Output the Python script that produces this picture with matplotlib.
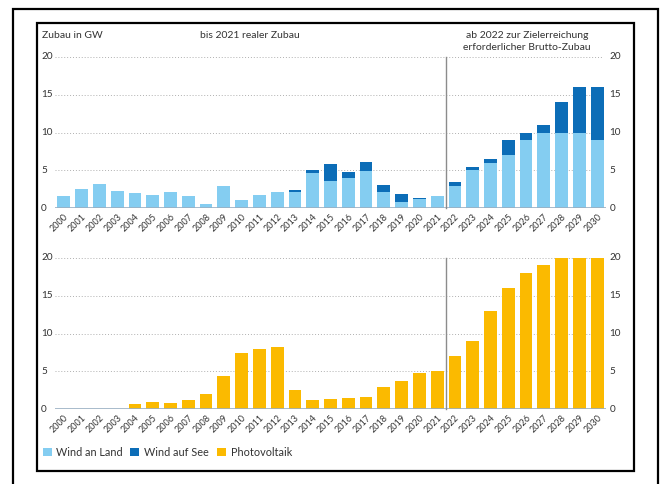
import matplotlib
matplotlib.use("Agg")
import matplotlib.pyplot as plt
from matplotlib.patches import Rectangle
import numpy as np

plt.rcParams['font.family'] = ['Lato', 'DejaVu Sans']

years = [str(y) for y in range(2000, 2031)]
wind_land = [1.6, 2.6, 3.2, 2.3, 2.0, 1.8, 2.2, 1.6, 0.6, 2.9, 1.1, 1.7, 2.2, 2.1, 4.6, 3.6,
             4.0, 4.9, 2.1, 0.8, 1.2, 1.6, 3.0, 5.0, 6.0, 7.0, 9.0, 10.0, 10.0, 10.0, 9.0]
wind_see = [0, 0, 0, 0, 0, 0, 0, 0, 0, 0, 0, 0.1, 0, 0.3, 0.5, 2.3,
            0.8, 1.2, 1.0, 1.1, 0.2, 0, 0.5, 0.5, 0.5, 2.0, 1.0, 1.0, 4.0, 6.0, 7.0]
pv = [0, 0, 0, 0.1, 0.7, 0.9, 0.85, 1.2, 2.0, 4.4, 7.4, 7.9, 8.2, 2.6, 1.2, 1.3,
      1.45, 1.6, 2.9, 3.7, 4.8, 5.0, 7.0, 9.0, 13.0, 16.0, 18.0, 19.0, 20.0, 20.0, 20.0]
yticks = [0, 5, 10, 15, 20]

C_LAND = '#84cdf1'
C_SEE = '#0c6db7'
C_PV = '#fbba00'
C_BASE = '#9aafc2'
C_TXT = '#333333'

W, H = 664, 484
fig = plt.figure(figsize=(W / 100, H / 100), dpi=100)

def fx(px):
    return px / W

def fy(py):
    return 1 - py / H

# frames
fig.add_artist(Rectangle((fx(13), fy(490)), fx(658) - fx(13), fy(9) - fy(490),
                         transform=fig.transFigure, fill=False, lw=1.6, ec='black'))
fig.add_artist(Rectangle((fx(37), fy(471)), fx(634) - fx(37), fy(22.5) - fy(471),
                         transform=fig.transFigure, fill=False, lw=1.6, ec='black'))

x = np.arange(len(years))
ax_left = fx(55)
ax_w = fx(606) - fx(55)

def setup(ax):
    ax.set_xlim(-0.5, 30.5)
    ax.set_ylim(0, 20)
    for s in ax.spines.values():
        s.set_visible(False)
    for yv in yticks[1:]:
        ax.plot([-0.5, 30.3], [yv, yv], ls=(0, (1, 2)), lw=0.7, color='#b0b0b0', zorder=0, clip_on=False)
    ax.axhline(0, color=C_BASE, lw=1.2, zorder=3)
    ax.plot([21.5, 21.5], [0, 20], color='#8c8c8c', lw=1.0, zorder=4, clip_on=False)
    ax.set_yticks(yticks)
    ax.set_yticklabels([])
    ax.tick_params(axis='y', length=0)
    ax.set_xticks(x)
    ax.set_xticklabels(years, rotation=45, ha='right', rotation_mode='anchor', fontsize=6.5, color=C_TXT)
    ax.tick_params(axis='x', length=0, pad=3)
    for yv in yticks:
        ax.text(-0.5 - 0.78, yv, str(yv), ha='left', va='center', fontsize=7.2, color=C_TXT,
                transform=ax.transData, clip_on=False)
        ax.text(30.7, yv, str(yv), ha='left', va='center', fontsize=7.2, color=C_TXT,
                transform=ax.transData, clip_on=False)

# top axes
ax1 = fig.add_axes([ax_left, fy(208.3), ax_w, fy(56.7) - fy(208.3)])
setup(ax1)
ax1.bar(x, wind_land, width=0.72, color=C_LAND, zorder=2)
ax1.bar(x, wind_see, width=0.72, bottom=wind_land, color=C_SEE, zorder=2)

# bottom axes
ax2 = fig.add_axes([ax_left, fy(409.3), ax_w, fy(257.7) - fy(409.3)])
setup(ax2)
ax2.bar(x, pv, width=0.72, color=C_PV, zorder=2, clip_on=False)

# header texts
fig.text(fx(42), fy(35), 'Zubau in GW', ha='left', va='center', fontsize=7.5, color=C_TXT)
fig.text(fx(250), fy(35), 'bis 2021 realer Zubau', ha='center', va='center', fontsize=7.5, color=C_TXT)
fig.text(fx(527), fy(35), 'ab 2022 zur Zielerreichung', ha='center', va='center', fontsize=7.5, color=C_TXT)
fig.text(fx(527), fy(47), 'erforderlicher Brutto-Zubau', ha='center', va='center', fontsize=7.5, color=C_TXT)

# legend
leg = [('Wind an Land', C_LAND, 42.5), ('Wind auf See', C_SEE, 130), ('Photovoltaik', C_PV, 217)]
for label, col, px in leg:
    fig.add_artist(Rectangle((fx(px), fy(456)), fx(9), fy(448) - fy(456),
                             transform=fig.transFigure, color=col, lw=0))
    fig.text(fx(px + 13.5), fy(452.5), label, ha='left', va='center', fontsize=7.8, color=C_TXT)

fig.savefig('out.png', dpi=100)
